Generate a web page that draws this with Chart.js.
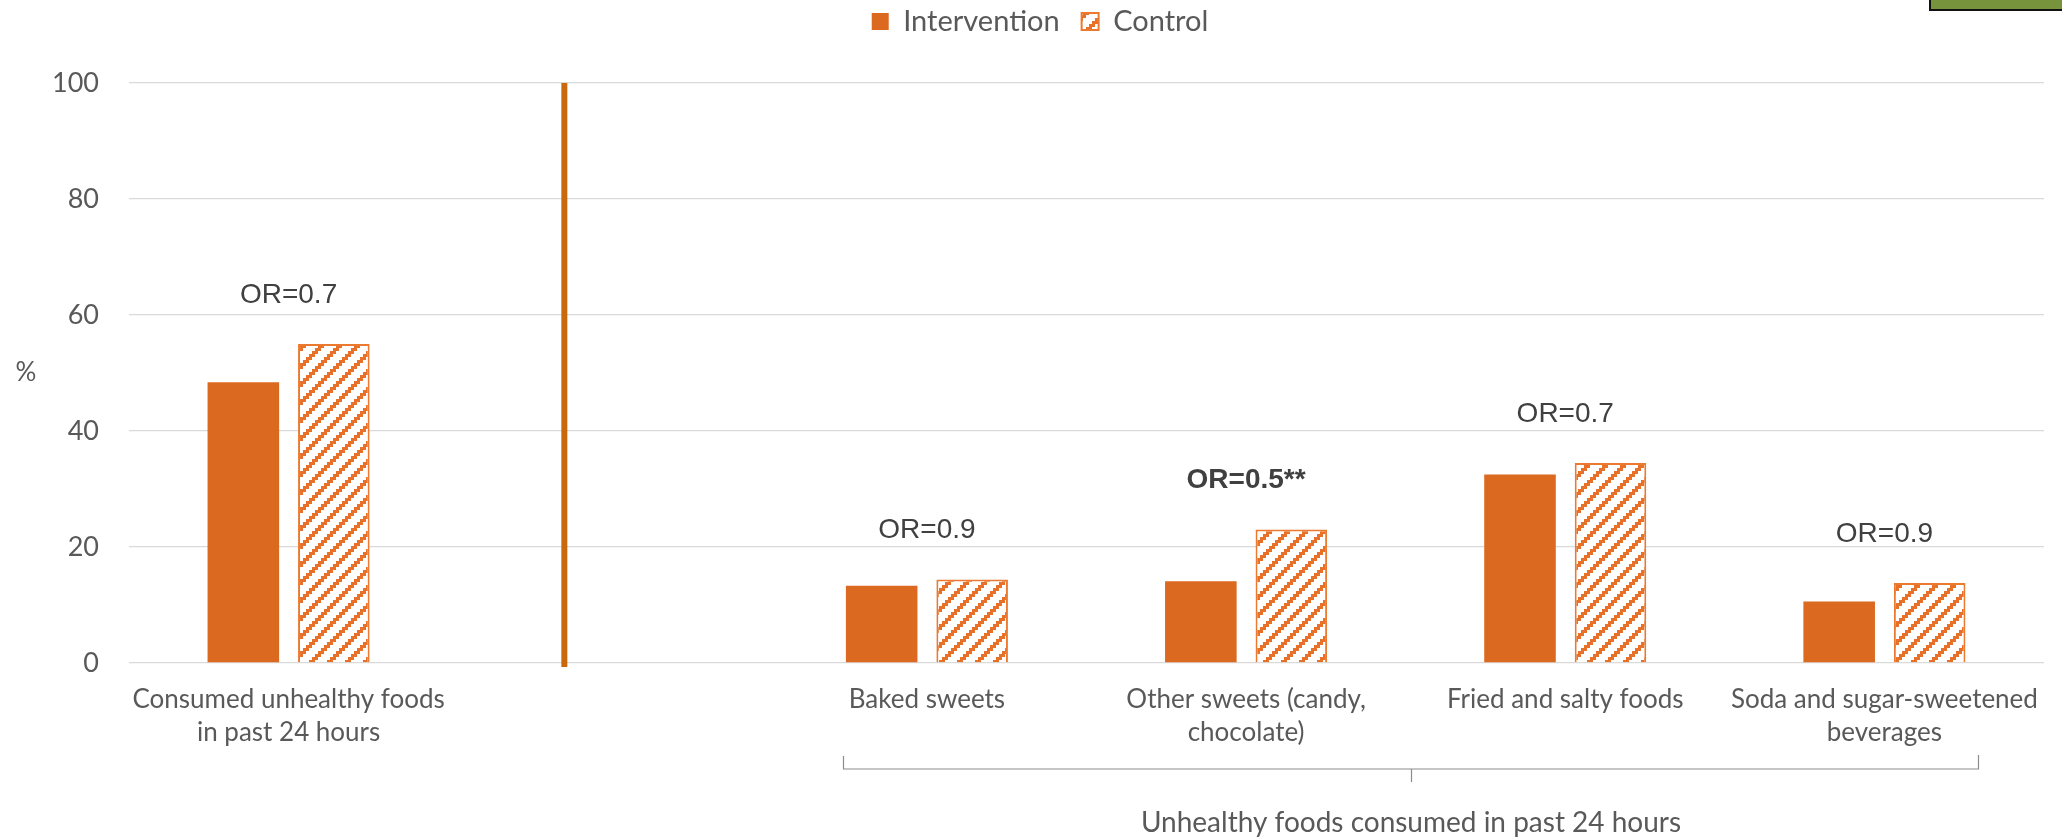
<!DOCTYPE html>
<html>
<head>
<meta charset="utf-8">
<script src="https://cdn.jsdelivr.net/npm/chart.js@4/dist/chart.umd.min.js"></script>
<style>
  html, body { margin: 0; padding: 0; background: #ffffff; }
  #wrap { width: 2062px; height: 839px; position: relative; }
</style>
</head>
<body>
<div id="wrap"><canvas id="c" width="2062" height="839"></canvas></div>
<script>
// Categories (index 1 is an empty spacer slot next to the divider)
const categories = [
  ["Consumed unhealthy foods", "in past 24 hours"],
  "",
  "Baked sweets",
  ["Other sweets (candy,", "chocolate)"],
  "Fried and salty foods",
  ["Soda and sugar-sweetened", "beverages"]
];
const seriesNames = ["Intervention", "Control"];
const intervention = [48.4, null, 13.3, 14.1, 32.5, 10.6];
const control      = [55.0, null, 14.4, 23.0, 34.5, 13.8];
const oddsRatios   = ["OR=0.7", "", "OR=0.9", "OR=0.5**", "OR=0.7", "OR=0.9"];
const significant  = [false, false, false, true, false, false];
const yTicks = [0, 20, 40, 60, 80, 100];
const yUnit = "%";
const groupTitle = "Unhealthy foods consumed in past 24 hours";
const groupFirst = 2, groupLast = 5;   // categories covered by the bracket

const ORANGE = '#DC6920';
const ORANGE_LINE = '#EB7A30';
const DIVIDER = '#C8690C';
const TEXT = '#595959';

// Upward diagonal hatch with stepped edges
function makeHatch(color) {
  const T = 18, s = 3, W = 6;
  const c = document.createElement('canvas');
  c.width = T; c.height = T;
  const g = c.getContext('2d');
  g.fillStyle = '#ffffff';
  g.fillRect(0, 0, T, T);
  g.fillStyle = color;
  for (let y = 0; y < T; y += s) {
    const x0 = ((T - y - s) % T + T) % T;
    g.fillRect(x0, y, Math.min(W, T - x0), s);
    if (x0 + W > T) g.fillRect(0, y, x0 + W - T, s);
  }
  return g.createPattern(c, 'repeat');
}
const hatch = makeHatch('#E8712A');

// Extra room under the legend, and legend nudged up and to the right
const legendSpace = {
  id: 'legendSpace',
  beforeInit(chart) {
    const fit = chart.legend.fit;
    chart.legend.fit = function () { fit.call(this); this.height = 83; };
  },
  afterLayout(chart) {
    const lg = chart.legend;
    lg.top = -15;
    lg.bottom = 68;
    lg.left += 8;
    lg.right += 8;
  }
};

// Decorations: odds ratio labels, divider, unit label, bracket, corner box
const annotations = {
  id: 'annotations',
  afterDatasetsDraw(chart) {
    const ctx = chart.ctx;
    const xs = chart.scales.x, ys = chart.scales.y;
    const catW = xs.width / categories.length;
    const m0 = chart.getDatasetMeta(0), m1 = chart.getDatasetMeta(1);

    ctx.save();
    // odds ratio labels above each pair of bars
    ctx.textAlign = 'center';
    ctx.textBaseline = 'middle';
    ctx.fillStyle = '#404040';
    oddsRatios.forEach((t, i) => {
      if (!t) return;
      const top = Math.min(m0.data[i].y, m1.data[i].y);
      ctx.font = (significant[i] ? 'bold ' : '') + '28px "Liberation Sans", Arial, sans-serif';
      ctx.fillText(t, xs.getPixelForValue(i), top - 49);
    });

    // vertical divider between the overall measure and the breakdown
    const dx = xs.getPixelForValue(1) - 0.136 * catW;
    ctx.fillStyle = DIVIDER;
    const yTop = ys.getPixelForValue(100);
    const yBot = ys.getPixelForValue(0) + 4;
    ctx.fillRect(dx - 3, yTop, 6, yBot - yTop);

    // unit label
    ctx.fillStyle = TEXT;
    ctx.font = '26px Lato, sans-serif';
    ctx.fillText(yUnit, 26, ys.getPixelForValue(50));

    // bracket under the breakdown categories
    const bL = Math.round(xs.getPixelForValue(groupFirst) - 0.263 * catW) + 0.5;
    const bR = Math.round(xs.getPixelForValue(groupLast) + 0.292 * catW) + 0.5;
    const bMid = Math.round((bL + bR) / 2) + 0.5;
    const base = ys.getPixelForValue(0);
    ctx.strokeStyle = '#8C8C8C';
    ctx.lineWidth = 1.2;
    ctx.beginPath();
    ctx.moveTo(bL, base + 93);
    ctx.lineTo(bL, base + 106);
    ctx.lineTo(bR, base + 106);
    ctx.lineTo(bR, base + 92);
    ctx.moveTo(bMid, base + 106);
    ctx.lineTo(bMid, base + 119);
    ctx.stroke();

    ctx.fillStyle = TEXT;
    ctx.font = '28px Lato, sans-serif';
    ctx.fillText(groupTitle, (bL + bR) / 2, base + 160);

    // small green box in the top right corner
    ctx.fillStyle = '#77933C';
    ctx.fillRect(1930, 0, 132, 9);
    ctx.fillStyle = '#111111';
    ctx.fillRect(1929, 0, 2, 11);
    ctx.fillRect(1929, 9, 133, 2);
    ctx.restore();
  }
};

new Chart(document.getElementById('c'), {
  type: 'bar',
  data: {
    labels: categories,
    datasets: [
      {
        label: seriesNames[0],
        data: intervention,
        backgroundColor: ORANGE,
        borderColor: ORANGE,
        borderWidth: 0,
        categoryPercentage: 0.567,
        barPercentage: 0.791
      },
      {
        label: seriesNames[1],
        data: control,
        backgroundColor: hatch,
        borderColor: ORANGE_LINE,
        borderWidth: 2,
        categoryPercentage: 0.567,
        barPercentage: 0.791
      }
    ]
  },
  options: {
    responsive: false,
    animation: false,
    layout: { padding: { left: 20, right: 18, top: 0, bottom: 0 } },
    plugins: {
      legend: {
        position: 'top',
        labels: {
          boxWidth: 17,
          boxHeight: 17,
          padding: 22,
          color: TEXT,
          font: { family: 'Lato', size: 29 }
        }
      },
      tooltip: { enabled: false }
    },
    scales: {
      x: {
        grid: { display: false, drawTicks: false },
        border: { display: false },
        ticks: {
          color: TEXT,
          font: { family: 'Lato', size: 26, lineHeight: 1.27 },
          padding: 20,
          autoSkip: false,
          maxRotation: 0,
          minRotation: 0
        },
        afterFit(scale) { scale.height = 176; }
      },
      y: {
        min: 0,
        max: 100,
        afterBuildTicks(scale) { scale.ticks = yTicks.map(v => ({ value: v })); },
        grid: { color: '#D9D9D9', lineWidth: 1.3, drawTicks: false },
        border: { display: false },
        ticks: {
          color: TEXT,
          font: { family: 'Lato', size: 27 },
          padding: 30
        },
        afterFit(scale) { scale.width = 109; }
      }
    }
  },
  plugins: [legendSpace, annotations]
});
</script>
</body>
</html>
